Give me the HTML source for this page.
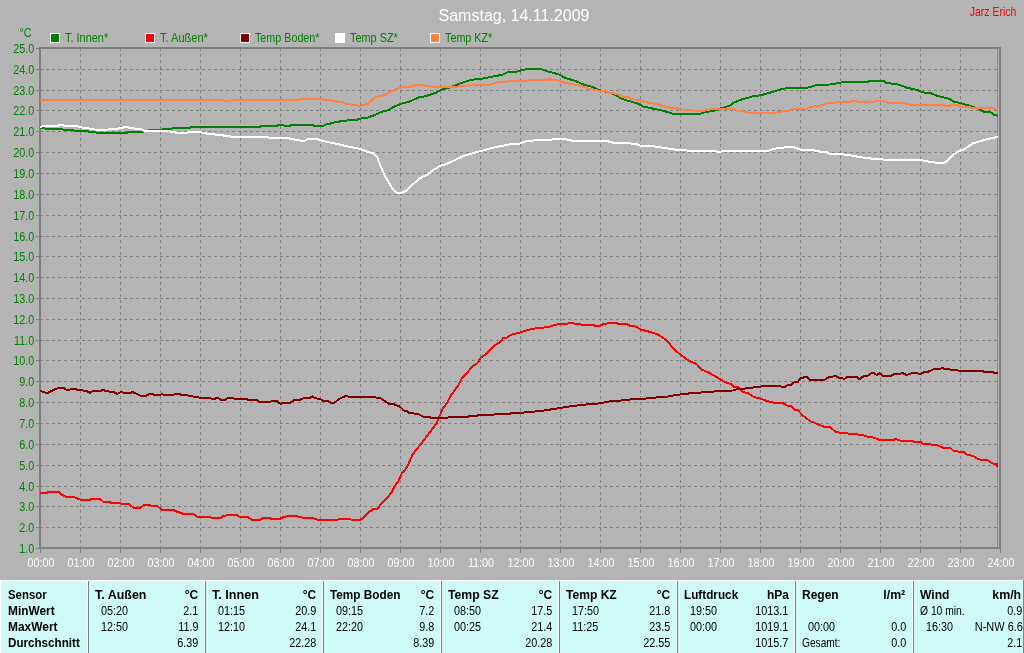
<!DOCTYPE html>
<html lang="de"><head><meta charset="utf-8"><title>Samstag, 14.11.2009</title>
<style>
html,body{margin:0;padding:0;background:#b4b4b4;}
body{width:1024px;height:653px;overflow:hidden;position:relative;font-family:"Liberation Sans",Arial,sans-serif;}
#chart{position:absolute;left:0;top:0;width:1024px;height:580px;display:block}
#chart text{font-family:"Liberation Sans",Arial,sans-serif}
.ax{font-size:10.7px;fill:#008000}
.tx{font-size:10.7px;fill:#fff}
.lg{font-size:10.7px;fill:#008000}
.cv{fill:none;stroke-width:2;stroke-linejoin:miter;shape-rendering:crispEdges}
#tbl{position:absolute;left:0;top:580px;width:1024px;height:73px;background:#cefaf7;overflow:hidden}
#tbl .dv{position:absolute;top:1px;width:1px;height:72px;background:#808080;border-left:1px solid #fff}
#tbl span{position:absolute;white-space:nowrap;color:#000;font-size:12.5px;line-height:14px;height:14px;display:block}
#tbl .l{transform-origin:0 50%;transform:scaleX(.87)}
#tbl .r{transform-origin:100% 50%;transform:scaleX(.87);text-align:right}
#tbl .b{font-weight:bold}
#tbl .l.b{transform:scaleX(.93)}
#tbl .r.b{transform:scaleX(.93)}
</style></head><body>

<svg id="chart" width="1024" height="580" viewBox="0 0 1024 580">
<rect x="0" y="0" width="1024" height="580" fill="#b4b4b4"/>
<g stroke="#7f7f7f" stroke-width="1" stroke-dasharray="3 3" shape-rendering="crispEdges"><line x1="40" x2="998" y1="527.5" y2="527.5"/><line x1="40" x2="998" y1="506.5" y2="506.5"/><line x1="40" x2="998" y1="486.5" y2="486.5"/><line x1="40" x2="998" y1="465.5" y2="465.5"/><line x1="40" x2="998" y1="444.5" y2="444.5"/><line x1="40" x2="998" y1="423.5" y2="423.5"/><line x1="40" x2="998" y1="402.5" y2="402.5"/><line x1="40" x2="998" y1="381.5" y2="381.5"/><line x1="40" x2="998" y1="360.5" y2="360.5"/><line x1="40" x2="998" y1="340.5" y2="340.5"/><line x1="40" x2="998" y1="319.5" y2="319.5"/><line x1="40" x2="998" y1="298.5" y2="298.5"/><line x1="40" x2="998" y1="277.5" y2="277.5"/><line x1="40" x2="998" y1="256.5" y2="256.5"/><line x1="40" x2="998" y1="236.5" y2="236.5"/><line x1="40" x2="998" y1="215.5" y2="215.5"/><line x1="40" x2="998" y1="194.5" y2="194.5"/><line x1="40" x2="998" y1="173.5" y2="173.5"/><line x1="40" x2="998" y1="152.5" y2="152.5"/><line x1="40" x2="998" y1="131.5" y2="131.5"/><line x1="40" x2="998" y1="110.5" y2="110.5"/><line x1="40" x2="998" y1="90.5" y2="90.5"/><line x1="40" x2="998" y1="69.5" y2="69.5"/><line y1="48" y2="547" x1="80.5" x2="80.5"/><line y1="48" y2="547" x1="120.5" x2="120.5"/><line y1="48" y2="547" x1="160.5" x2="160.5"/><line y1="48" y2="547" x1="200.5" x2="200.5"/><line y1="48" y2="547" x1="240.5" x2="240.5"/><line y1="48" y2="547" x1="280.5" x2="280.5"/><line y1="48" y2="547" x1="320.5" x2="320.5"/><line y1="48" y2="547" x1="360.5" x2="360.5"/><line y1="48" y2="547" x1="400.5" x2="400.5"/><line y1="48" y2="547" x1="440.5" x2="440.5"/><line y1="48" y2="547" x1="480.5" x2="480.5"/><line y1="48" y2="547" x1="520.5" x2="520.5"/><line y1="48" y2="547" x1="560.5" x2="560.5"/><line y1="48" y2="547" x1="600.5" x2="600.5"/><line y1="48" y2="547" x1="640.5" x2="640.5"/><line y1="48" y2="547" x1="680.5" x2="680.5"/><line y1="48" y2="547" x1="720.5" x2="720.5"/><line y1="48" y2="547" x1="760.5" x2="760.5"/><line y1="48" y2="547" x1="800.5" x2="800.5"/><line y1="48" y2="547" x1="840.5" x2="840.5"/><line y1="48" y2="547" x1="880.5" x2="880.5"/><line y1="48" y2="547" x1="920.5" x2="920.5"/><line y1="48" y2="547" x1="960.5" x2="960.5"/></g>
<g stroke="#7f7f7f" stroke-width="1" shape-rendering="crispEdges"><line x1="36" x2="39" y1="548.5" y2="548.5"/><line x1="36" x2="39" y1="527.5" y2="527.5"/><line x1="36" x2="39" y1="506.5" y2="506.5"/><line x1="36" x2="39" y1="486.5" y2="486.5"/><line x1="36" x2="39" y1="465.5" y2="465.5"/><line x1="36" x2="39" y1="444.5" y2="444.5"/><line x1="36" x2="39" y1="423.5" y2="423.5"/><line x1="36" x2="39" y1="402.5" y2="402.5"/><line x1="36" x2="39" y1="381.5" y2="381.5"/><line x1="36" x2="39" y1="360.5" y2="360.5"/><line x1="36" x2="39" y1="340.5" y2="340.5"/><line x1="36" x2="39" y1="319.5" y2="319.5"/><line x1="36" x2="39" y1="298.5" y2="298.5"/><line x1="36" x2="39" y1="277.5" y2="277.5"/><line x1="36" x2="39" y1="256.5" y2="256.5"/><line x1="36" x2="39" y1="236.5" y2="236.5"/><line x1="36" x2="39" y1="215.5" y2="215.5"/><line x1="36" x2="39" y1="194.5" y2="194.5"/><line x1="36" x2="39" y1="173.5" y2="173.5"/><line x1="36" x2="39" y1="152.5" y2="152.5"/><line x1="36" x2="39" y1="131.5" y2="131.5"/><line x1="36" x2="39" y1="110.5" y2="110.5"/><line x1="36" x2="39" y1="90.5" y2="90.5"/><line x1="36" x2="39" y1="69.5" y2="69.5"/><line x1="36" x2="39" y1="48.5" y2="48.5"/><line y1="549" y2="553" x1="40.5" x2="40.5"/><line y1="549" y2="553" x1="80.5" x2="80.5"/><line y1="549" y2="553" x1="120.5" x2="120.5"/><line y1="549" y2="553" x1="160.5" x2="160.5"/><line y1="549" y2="553" x1="200.5" x2="200.5"/><line y1="549" y2="553" x1="240.5" x2="240.5"/><line y1="549" y2="553" x1="280.5" x2="280.5"/><line y1="549" y2="553" x1="320.5" x2="320.5"/><line y1="549" y2="553" x1="360.5" x2="360.5"/><line y1="549" y2="553" x1="400.5" x2="400.5"/><line y1="549" y2="553" x1="440.5" x2="440.5"/><line y1="549" y2="553" x1="480.5" x2="480.5"/><line y1="549" y2="553" x1="520.5" x2="520.5"/><line y1="549" y2="553" x1="560.5" x2="560.5"/><line y1="549" y2="553" x1="600.5" x2="600.5"/><line y1="549" y2="553" x1="640.5" x2="640.5"/><line y1="549" y2="553" x1="680.5" x2="680.5"/><line y1="549" y2="553" x1="720.5" x2="720.5"/><line y1="549" y2="553" x1="760.5" x2="760.5"/><line y1="549" y2="553" x1="800.5" x2="800.5"/><line y1="549" y2="553" x1="840.5" x2="840.5"/><line y1="549" y2="553" x1="880.5" x2="880.5"/><line y1="549" y2="553" x1="920.5" x2="920.5"/><line y1="549" y2="553" x1="960.5" x2="960.5"/><line y1="549" y2="553" x1="1000.5" x2="1000.5"/></g>
<line x1="997.5" x2="997.5" y1="49" y2="547" stroke="#8a8a8a" stroke-width="1" shape-rendering="crispEdges"/>
<rect x="40" y="48" width="960" height="500" fill="none" stroke="#7f7f7f" stroke-width="2" shape-rendering="crispEdges"/>
<polyline class="cv" stroke="#008000" points="40.0,127.7 48.0,128.9 60.3,129.2 70.5,130.3 86.9,131.3 97.8,132.7 127.5,132.7 128.3,131.7 143.0,131.7 151.0,129.7 168.0,129.4 174.4,128.0 190.0,127.7 191.5,126.9 200.0,126.9 260.2,126.9 261.7,125.8 277.3,125.8 278.9,124.8 282.8,124.8 284.4,125.8 289.8,125.8 291.4,124.8 312.5,124.8 314.0,125.8 323.4,125.8 325.0,124.8 329.7,123.8 332.0,122.7 337.5,122.2 341.4,120.9 346.9,120.6 349.2,119.8 357.0,119.7 360.0,118.6 367.8,117.5 375.6,114.7 380.3,112.3 388.9,110.0 393.6,106.9 400.6,104.0 410.0,101.4 418.6,97.5 425.6,96.2 436.6,92.5 441.2,89.7 450.6,87.3 460.0,83.4 470.9,79.8 481.9,78.8 491.2,76.9 502.2,74.8 508.4,71.7 516.2,71.7 520.0,70.6 527.8,69.0 540.3,69.0 546.6,71.1 559.0,74.5 565.3,78.0 574.7,80.8 584.0,84.7 591.9,86.7 598.0,89.7 606.0,91.7 613.8,94.0 621.6,98.8 629.4,101.1 637.2,103.4 643.4,106.6 654.4,108.9 663.8,110.9 673.0,113.9 680.0,113.9 700.3,113.9 705.0,111.9 712.8,111.1 722.2,108.0 730.0,105.6 733.9,102.5 740.9,99.7 753.4,96.2 761.2,95.2 773.8,91.6 781.6,89.2 787.8,88.0 806.6,88.0 817.5,84.8 830.0,84.5 840.0,82.8 844.7,81.7 868.0,81.7 869.7,80.6 883.0,80.6 886.0,82.8 897.8,84.4 907.2,87.7 918.0,90.3 924.4,92.7 930.6,93.1 938.4,96.2 949.4,98.9 954.0,101.7 960.3,103.1 969.7,105.9 977.5,108.3 983.8,111.7 990.0,111.9 994.0,114.8 997.8,115.6"/>
<polyline class="cv" stroke="#ff0000" points="40.0,493.1 47.0,493.1 48.6,491.9 58.8,491.9 61.9,494.7 65.8,496.7 73.6,497.0 80.6,499.7 90.0,499.7 91.6,498.8 100.0,498.8 103.3,501.7 109.5,502.0 111.9,503.0 119.7,503.0 122.0,504.0 129.0,504.0 133.8,508.0 140.0,508.0 143.0,505.6 146.2,504.8 150.0,504.8 151.7,505.9 157.2,505.9 161.9,509.8 172.8,509.8 177.5,511.9 183.8,513.9 193.0,513.9 197.8,516.9 200.0,517.3 221.0,517.7 223.4,516.1 228.0,515.0 236.7,515.0 239.0,516.6 247.7,516.9 251.6,519.7 260.2,519.7 264.0,517.8 269.5,517.8 271.0,518.9 279.7,518.9 283.6,516.9 288.3,516.1 296.9,516.1 299.2,516.9 303.0,517.7 312.5,517.8 317.2,519.7 337.5,519.7 339.0,518.9 350.0,518.9 351.7,519.8 360.3,519.8 363.4,517.8 369.0,512.0 373.6,508.9 377.5,508.6 382.2,502.7 387.7,497.2 391.6,492.5 394.7,486.2 398.6,480.8 401.7,473.8 407.2,466.7 412.7,454.2 416.2,450.0 422.5,442.2 428.8,433.6 436.6,423.4 439.7,415.6 442.8,408.6 447.5,402.3 450.6,396.1 453.8,391.4 458.4,385.2 461.6,378.9 467.8,371.9 473.3,365.6 477.2,363.5 480.6,357.8 485.3,354.7 494.7,345.3 500.0,342.2 503.3,338.0 507.2,337.5 511.0,334.7 520.0,332.5 524.7,330.8 531.7,329.0 538.8,328.0 548.0,327.2 553.6,325.2 559.0,324.0 566.9,323.8 569.2,323.0 573.0,323.0 574.7,324.0 580.0,324.0 581.7,324.8 593.4,324.8 595.0,325.8 599.7,325.8 602.8,324.4 608.3,323.3 616.9,323.0 618.4,324.0 627.0,324.0 629.4,325.6 636.4,326.7 640.3,329.5 648.0,331.4 656.7,333.9 666.0,339.7 672.3,347.2 680.0,354.4 689.4,361.1 696.4,363.9 701.9,369.7 709.7,373.1 717.5,377.5 723.8,381.4 730.8,384.2 733.9,386.9 737.8,387.2 742.5,391.6 748.8,393.6 753.4,396.7 761.2,398.9 766.7,400.9 773.8,402.8 783.0,403.0 787.0,405.6 791.0,406.1 794.8,409.8 798.0,410.3 803.4,416.1 809.7,420.9 817.5,424.0 823.8,426.7 830.0,427.0 835.5,431.7 840.0,432.8 846.2,432.8 848.6,433.9 855.6,433.9 858.8,434.8 863.4,435.2 868.0,437.0 872.8,437.5 880.6,440.2 893.0,440.2 895.5,439.0 901.0,440.9 913.2,440.8 914.2,441.8 920.3,441.8 923.4,443.9 930.5,444.0 931.5,444.9 937.0,444.9 940.6,446.9 943.7,447.9 950.3,447.9 953.3,450.8 956.9,451.0 958.4,451.8 963.5,452.0 967.0,454.5 973.0,456.0 977.2,458.6 980.7,459.8 987.3,459.8 989.9,462.1 994.0,463.9 997.0,464.2 997.0,466.5"/>
<polyline class="cv" stroke="#800000" points="40.0,390.9 44.7,392.5 48.6,392.5 54.0,389.8 58.8,387.8 63.4,387.8 66.6,389.8 69.7,389.8 71.2,388.8 75.2,388.8 76.7,389.8 80.6,390.2 86.9,390.9 90.0,393.0 93.0,390.9 101.0,390.9 102.5,389.8 107.2,391.4 113.4,391.9 117.3,394.0 121.2,391.9 124.4,393.0 130.6,393.0 132.2,391.9 136.9,394.0 141.6,396.1 145.5,396.1 149.4,394.0 152.5,394.0 154.8,395.0 160.3,395.0 161.9,394.0 164.2,395.0 172.8,395.0 175.2,394.0 179.8,394.0 181.4,395.0 186.9,395.3 194.7,396.9 200.0,397.7 210.0,397.7 211.7,398.9 214.8,398.9 216.4,397.7 218.0,397.7 221.0,400.0 225.0,400.0 228.0,397.7 232.8,397.7 234.4,398.9 246.9,398.9 248.4,400.0 257.0,400.0 259.4,401.9 270.3,401.9 271.9,400.8 276.6,400.8 280.5,403.9 282.8,402.8 289.8,402.8 293.8,400.3 300.0,399.7 304.7,398.0 310.0,397.7 312.5,396.6 315.6,398.4 320.3,398.9 322.7,400.8 327.3,400.8 331.2,402.8 334.4,402.8 339.0,398.9 346.0,395.8 349.2,396.9 357.0,396.9 360.0,396.6 374.8,396.6 376.4,397.7 380.3,398.1 388.9,403.6 393.6,404.2 400.6,407.0 403.8,410.5 406.9,410.9 409.2,412.8 417.8,414.0 424.0,416.9 429.5,416.9 431.0,418.0 447.5,418.0 449.0,416.9 467.8,416.9 469.4,415.9 477.2,415.9 478.8,414.8 493.6,414.8 495.2,413.8 510.0,413.8 511.6,412.8 517.8,412.8 520.0,412.8 530.0,412.0 541.0,411.0 557.5,408.4 571.6,406.1 582.5,404.8 599.7,403.4 612.2,400.9 626.2,400.3 632.5,399.0 643.4,398.8 652.8,397.8 660.6,397.0 670.0,396.4 673.9,395.2 680.0,394.5 687.8,393.9 689.4,392.8 700.3,392.8 701.9,391.9 713.6,391.6 715.2,390.8 733.0,390.5 737.8,388.9 747.2,388.4 748.8,387.7 757.3,387.3 764.4,385.8 780.0,385.8 781.6,386.9 784.7,386.9 787.8,385.0 791.0,384.8 794.8,381.9 798.0,381.7 800.3,378.3 806.6,376.7 809.7,379.8 824.5,379.8 828.4,377.5 835.5,375.9 838.6,377.5 840.0,378.3 844.7,378.6 847.8,376.9 856.4,376.9 859.5,379.2 864.2,375.8 868.0,375.5 872.0,373.0 874.4,373.4 876.7,375.0 879.8,373.4 883.0,375.8 890.8,375.8 894.7,373.9 900.0,373.9 902.5,373.0 906.4,375.0 911.9,373.1 916.6,373.1 919.7,374.2 924.4,372.2 928.3,371.6 933.8,369.2 940.0,369.0 942.3,368.0 944.7,369.0 949.4,369.2 951.7,370.0 956.4,370.0 958.8,370.8 982.2,370.8 984.5,371.9 992.3,371.9 994.7,373.0 997.8,373.0"/>
<polyline class="cv" stroke="#ffffff" points="40.0,126.9 44.7,126.1 57.0,126.1 58.8,125.3 63.4,125.3 64.2,126.1 77.5,126.1 79.0,127.2 87.0,128.1 93.0,129.2 97.8,130.0 107.0,130.0 108.8,128.9 118.0,128.9 119.0,128.0 123.6,128.0 124.4,126.9 127.5,126.9 128.3,127.7 133.8,127.7 135.3,128.9 141.5,129.2 144.0,130.8 169.7,130.8 171.2,131.9 177.5,132.8 186.9,132.8 188.4,131.9 200.0,131.9 203.0,133.1 212.5,134.2 223.4,135.5 231.2,136.6 267.2,136.6 268.8,137.8 287.5,138.1 293.8,139.4 300.8,140.6 304.7,140.6 307.8,139.0 317.2,139.0 323.4,141.2 334.4,143.3 345.3,145.9 360.0,148.9 367.8,152.0 373.3,153.1 377.2,157.5 380.3,165.3 385.0,176.2 389.7,184.0 393.6,190.3 397.5,193.1 400.6,193.4 406.9,190.3 411.6,185.6 419.4,178.6 424.0,175.9 427.2,175.0 433.4,170.0 441.2,165.3 446.0,164.2 453.8,160.6 463.1,156.2 472.5,153.3 481.9,150.8 492.8,147.8 503.8,145.5 511.6,143.9 520.0,143.5 526.2,141.2 535.6,140.2 554.4,139.4 566.9,139.4 573.0,140.9 606.0,140.9 613.8,142.8 629.4,143.3 637.2,144.4 640.3,145.6 652.8,146.1 663.8,148.0 673.0,149.2 680.0,150.2 686.2,150.2 689.4,151.2 716.0,151.2 719.0,152.0 723.8,151.0 767.5,151.0 772.2,149.4 778.4,147.8 787.8,147.3 791.0,146.6 795.6,147.8 801.9,150.2 812.8,150.2 820.6,151.7 826.9,152.2 830.0,154.0 840.0,154.0 849.4,155.2 860.3,157.2 872.8,158.8 886.9,159.8 919.7,159.8 927.5,161.4 938.4,163.0 943.1,163.0 947.0,161.4 952.5,155.2 958.8,151.2 965.0,148.9 972.8,143.4 980.6,141.1 988.4,138.8 997.8,136.9"/>
<polyline class="cv" stroke="#ff8040" points="40.0,100.0 200.0,99.8 222.7,99.8 224.2,100.8 230.5,100.8 232.0,99.8 300.0,99.8 301.6,98.9 321.9,98.9 323.4,99.8 329.7,100.0 331.2,100.8 336.7,100.8 338.3,101.9 343.0,102.2 345.3,103.8 350.0,104.2 352.3,105.0 356.2,105.3 360.0,106.1 367.8,103.8 374.8,97.5 383.4,95.6 391.2,91.2 399.8,87.7 410.0,86.9 413.0,85.8 418.6,84.7 422.5,84.7 424.8,85.8 429.5,85.8 431.9,86.9 456.9,86.9 460.0,85.8 466.2,85.8 469.4,84.7 489.7,84.7 492.8,83.8 495.9,83.0 498.3,81.9 506.9,81.9 509.2,80.8 520.0,80.8 527.8,80.8 529.4,79.7 548.0,79.7 549.4,78.8 550.5,79.7 556.7,80.0 560.6,81.6 570.0,83.9 577.8,85.2 587.2,88.3 595.0,90.2 606.0,91.2 609.0,92.8 616.9,94.0 621.6,96.7 627.8,97.2 630.9,99.0 640.3,100.3 648.0,102.7 657.5,104.2 666.9,107.3 676.2,108.1 680.0,109.2 686.2,110.3 703.4,110.8 711.2,109.2 733.0,109.2 737.8,111.1 744.0,111.6 750.3,113.0 773.8,113.0 780.0,111.6 787.8,111.1 792.5,109.0 806.6,109.0 811.2,106.7 820.6,105.6 828.4,103.0 836.2,102.5 840.0,102.0 849.4,102.0 851.7,100.9 856.4,100.9 858.0,102.0 872.8,102.0 875.2,100.9 883.0,100.9 888.4,102.8 902.5,102.8 910.3,104.7 943.1,104.7 944.7,105.9 949.4,105.9 952.5,104.7 956.4,104.7 961.9,107.0 969.7,107.0 972.8,108.0 993.0,108.0 994.7,109.0 997.8,109.0"/>
<text transform="translate(34.3,553) scale(0.864,1)" text-anchor="end" fill="#008000" font-size="12.5px">1.0</text>
<text transform="translate(34.3,532) scale(0.864,1)" text-anchor="end" fill="#008000" font-size="12.5px">2.0</text>
<text transform="translate(34.3,511) scale(0.864,1)" text-anchor="end" fill="#008000" font-size="12.5px">3.0</text>
<text transform="translate(34.3,491) scale(0.864,1)" text-anchor="end" fill="#008000" font-size="12.5px">4.0</text>
<text transform="translate(34.3,470) scale(0.864,1)" text-anchor="end" fill="#008000" font-size="12.5px">5.0</text>
<text transform="translate(34.3,449) scale(0.864,1)" text-anchor="end" fill="#008000" font-size="12.5px">6.0</text>
<text transform="translate(34.3,428) scale(0.864,1)" text-anchor="end" fill="#008000" font-size="12.5px">7.0</text>
<text transform="translate(34.3,407) scale(0.864,1)" text-anchor="end" fill="#008000" font-size="12.5px">8.0</text>
<text transform="translate(34.3,386) scale(0.864,1)" text-anchor="end" fill="#008000" font-size="12.5px">9.0</text>
<text transform="translate(34.3,365) scale(0.864,1)" text-anchor="end" fill="#008000" font-size="12.5px">10.0</text>
<text transform="translate(34.3,345) scale(0.864,1)" text-anchor="end" fill="#008000" font-size="12.5px">11.0</text>
<text transform="translate(34.3,324) scale(0.864,1)" text-anchor="end" fill="#008000" font-size="12.5px">12.0</text>
<text transform="translate(34.3,303) scale(0.864,1)" text-anchor="end" fill="#008000" font-size="12.5px">13.0</text>
<text transform="translate(34.3,282) scale(0.864,1)" text-anchor="end" fill="#008000" font-size="12.5px">14.0</text>
<text transform="translate(34.3,261) scale(0.864,1)" text-anchor="end" fill="#008000" font-size="12.5px">15.0</text>
<text transform="translate(34.3,241) scale(0.864,1)" text-anchor="end" fill="#008000" font-size="12.5px">16.0</text>
<text transform="translate(34.3,220) scale(0.864,1)" text-anchor="end" fill="#008000" font-size="12.5px">17.0</text>
<text transform="translate(34.3,199) scale(0.864,1)" text-anchor="end" fill="#008000" font-size="12.5px">18.0</text>
<text transform="translate(34.3,178) scale(0.864,1)" text-anchor="end" fill="#008000" font-size="12.5px">19.0</text>
<text transform="translate(34.3,157) scale(0.864,1)" text-anchor="end" fill="#008000" font-size="12.5px">20.0</text>
<text transform="translate(34.3,136) scale(0.864,1)" text-anchor="end" fill="#008000" font-size="12.5px">21.0</text>
<text transform="translate(34.3,115) scale(0.864,1)" text-anchor="end" fill="#008000" font-size="12.5px">22.0</text>
<text transform="translate(34.3,95) scale(0.864,1)" text-anchor="end" fill="#008000" font-size="12.5px">23.0</text>
<text transform="translate(34.3,74) scale(0.864,1)" text-anchor="end" fill="#008000" font-size="12.5px">24.0</text>
<text transform="translate(34.3,53) scale(0.864,1)" text-anchor="end" fill="#008000" font-size="12.5px">25.0</text>
<text transform="translate(19.5,37) scale(0.864,1)" text-anchor="start" fill="#008000" font-size="12.5px">°C</text>
<text transform="translate(41,567) scale(0.864,1)" text-anchor="middle" fill="#fff" font-size="12.5px">00:00</text>
<text transform="translate(81,567) scale(0.864,1)" text-anchor="middle" fill="#fff" font-size="12.5px">01:00</text>
<text transform="translate(121,567) scale(0.864,1)" text-anchor="middle" fill="#fff" font-size="12.5px">02:00</text>
<text transform="translate(161,567) scale(0.864,1)" text-anchor="middle" fill="#fff" font-size="12.5px">03:00</text>
<text transform="translate(201,567) scale(0.864,1)" text-anchor="middle" fill="#fff" font-size="12.5px">04:00</text>
<text transform="translate(241,567) scale(0.864,1)" text-anchor="middle" fill="#fff" font-size="12.5px">05:00</text>
<text transform="translate(281,567) scale(0.864,1)" text-anchor="middle" fill="#fff" font-size="12.5px">06:00</text>
<text transform="translate(321,567) scale(0.864,1)" text-anchor="middle" fill="#fff" font-size="12.5px">07:00</text>
<text transform="translate(361,567) scale(0.864,1)" text-anchor="middle" fill="#fff" font-size="12.5px">08:00</text>
<text transform="translate(401,567) scale(0.864,1)" text-anchor="middle" fill="#fff" font-size="12.5px">09:00</text>
<text transform="translate(441,567) scale(0.864,1)" text-anchor="middle" fill="#fff" font-size="12.5px">10:00</text>
<text transform="translate(481,567) scale(0.864,1)" text-anchor="middle" fill="#fff" font-size="12.5px">11:00</text>
<text transform="translate(521,567) scale(0.864,1)" text-anchor="middle" fill="#fff" font-size="12.5px">12:00</text>
<text transform="translate(561,567) scale(0.864,1)" text-anchor="middle" fill="#fff" font-size="12.5px">13:00</text>
<text transform="translate(601,567) scale(0.864,1)" text-anchor="middle" fill="#fff" font-size="12.5px">14:00</text>
<text transform="translate(641,567) scale(0.864,1)" text-anchor="middle" fill="#fff" font-size="12.5px">15:00</text>
<text transform="translate(681,567) scale(0.864,1)" text-anchor="middle" fill="#fff" font-size="12.5px">16:00</text>
<text transform="translate(721,567) scale(0.864,1)" text-anchor="middle" fill="#fff" font-size="12.5px">17:00</text>
<text transform="translate(761,567) scale(0.864,1)" text-anchor="middle" fill="#fff" font-size="12.5px">18:00</text>
<text transform="translate(801,567) scale(0.864,1)" text-anchor="middle" fill="#fff" font-size="12.5px">19:00</text>
<text transform="translate(841,567) scale(0.864,1)" text-anchor="middle" fill="#fff" font-size="12.5px">20:00</text>
<text transform="translate(881,567) scale(0.864,1)" text-anchor="middle" fill="#fff" font-size="12.5px">21:00</text>
<text transform="translate(921,567) scale(0.864,1)" text-anchor="middle" fill="#fff" font-size="12.5px">22:00</text>
<text transform="translate(961,567) scale(0.864,1)" text-anchor="middle" fill="#fff" font-size="12.5px">23:00</text>
<text transform="translate(1001,567) scale(0.864,1)" text-anchor="middle" fill="#fff" font-size="12.5px">24:00</text>
<rect x="50" y="33" width="10" height="10" fill="#fff"/><rect x="51" y="34" width="8" height="8" fill="#008000"/>
<text x="65" y="42" font-size="12.5px" fill="#008000" textLength="43.2" lengthAdjust="spacingAndGlyphs">T. Innen*</text>
<rect x="145" y="33" width="10" height="10" fill="#fff"/><rect x="146" y="34" width="8" height="8" fill="#ff0000"/>
<text x="160" y="42" font-size="12.5px" fill="#008000" textLength="47.8" lengthAdjust="spacingAndGlyphs">T. Außen*</text>
<rect x="240" y="33" width="10" height="10" fill="#fff"/><rect x="241" y="34" width="8" height="8" fill="#800000"/>
<text x="255" y="42" font-size="12.5px" fill="#008000" textLength="64.5" lengthAdjust="spacingAndGlyphs">Temp Boden*</text>
<rect x="335" y="33" width="10" height="10" fill="#fff"/><rect x="336" y="34" width="8" height="8" fill="#ffffff"/>
<text x="350" y="42" font-size="12.5px" fill="#008000" textLength="47.8" lengthAdjust="spacingAndGlyphs">Temp SZ*</text>
<rect x="430" y="33" width="10" height="10" fill="#fff"/><rect x="431" y="34" width="8" height="8" fill="#ff8040"/>
<text x="445" y="42" font-size="12.5px" fill="#008000" textLength="47.3" lengthAdjust="spacingAndGlyphs">Temp KZ*</text>
<text x="514" y="21" text-anchor="middle" font-size="16px" fill="#fff">Samstag, 14.11.2009</text>
<text x="969.8" y="16" font-size="12.5px" fill="#ff0000" textLength="46.5" lengthAdjust="spacingAndGlyphs">Jarz Erich</text>
</svg>

<div id="tbl">
<i class="dv" style="left:0;top:0;height:1px;width:1023px;border-left:0;background:#fff"></i>
<i class="dv" style="left:0;border-left:0;background:#fff"></i>
<i class="dv" style="left:87px"></i>
<i class="dv" style="left:204px"></i>
<i class="dv" style="left:322px"></i>
<i class="dv" style="left:440px"></i>
<i class="dv" style="left:558px"></i>
<i class="dv" style="left:676px"></i>
<i class="dv" style="left:794px"></i>
<i class="dv" style="left:912px"></i>
<i class="dv" style="left:1023px;top:0;height:73px;border-left:0"></i>
<span class="l b" style="left:8.3px;top:8px;transform:scaleX(0.913)">Sensor</span>
<span class="l b" style="left:8.3px;top:24px;transform:scaleX(0.952)">MinWert</span>
<span class="l b" style="left:8.3px;top:40px;transform:scaleX(0.956)">MaxWert</span>
<span class="l b" style="left:8.3px;top:56px;transform:scaleX(0.931)">Durchschnitt</span>
<span class="l b" style="left:95.0px;top:8px;transform:scaleX(0.996)">T. Außen</span>
<span class="r b" style="right:825.5px;top:8px;transform:scaleX(0.955)">°C</span>
<span class="l" style="left:100.5px;top:24px;transform:scaleX(0.864)">05:20</span>
<span class="r" style="right:825.5px;top:24px;transform:scaleX(0.864)">2.1</span>
<span class="l" style="left:100.5px;top:40px;transform:scaleX(0.864)">12:50</span>
<span class="r" style="right:825.5px;top:40px;transform:scaleX(0.864)">11.9</span>
<span class="r" style="right:825.5px;top:56px;transform:scaleX(0.864)">6.39</span>
<span class="l b" style="left:212.0px;top:8px;transform:scaleX(1.008)">T. Innen</span>
<span class="r b" style="right:707.5px;top:8px;transform:scaleX(0.955)">°C</span>
<span class="l" style="left:217.5px;top:24px;transform:scaleX(0.864)">01:15</span>
<span class="r" style="right:707.5px;top:24px;transform:scaleX(0.864)">20.9</span>
<span class="l" style="left:217.5px;top:40px;transform:scaleX(0.864)">12:10</span>
<span class="r" style="right:707.5px;top:40px;transform:scaleX(0.864)">24.1</span>
<span class="r" style="right:707.5px;top:56px;transform:scaleX(0.864)">22.28</span>
<span class="l b" style="left:330.0px;top:8px;transform:scaleX(0.941)">Temp Boden</span>
<span class="r b" style="right:589.5px;top:8px;transform:scaleX(0.955)">°C</span>
<span class="l" style="left:335.5px;top:24px;transform:scaleX(0.864)">09:15</span>
<span class="r" style="right:589.5px;top:24px;transform:scaleX(0.864)">7.2</span>
<span class="l" style="left:335.5px;top:40px;transform:scaleX(0.864)">22:20</span>
<span class="r" style="right:589.5px;top:40px;transform:scaleX(0.864)">9.8</span>
<span class="r" style="right:589.5px;top:56px;transform:scaleX(0.864)">8.39</span>
<span class="l b" style="left:448.0px;top:8px;transform:scaleX(0.978)">Temp SZ</span>
<span class="r b" style="right:471.5px;top:8px;transform:scaleX(0.955)">°C</span>
<span class="l" style="left:453.5px;top:24px;transform:scaleX(0.864)">08:50</span>
<span class="r" style="right:471.5px;top:24px;transform:scaleX(0.864)">17.5</span>
<span class="l" style="left:453.5px;top:40px;transform:scaleX(0.864)">00:25</span>
<span class="r" style="right:471.5px;top:40px;transform:scaleX(0.864)">21.4</span>
<span class="r" style="right:471.5px;top:56px;transform:scaleX(0.864)">20.28</span>
<span class="l b" style="left:566.0px;top:8px;transform:scaleX(0.965)">Temp KZ</span>
<span class="r b" style="right:353.5px;top:8px;transform:scaleX(0.955)">°C</span>
<span class="l" style="left:571.5px;top:24px;transform:scaleX(0.864)">17:50</span>
<span class="r" style="right:353.5px;top:24px;transform:scaleX(0.864)">21.8</span>
<span class="l" style="left:571.5px;top:40px;transform:scaleX(0.864)">11:25</span>
<span class="r" style="right:353.5px;top:40px;transform:scaleX(0.864)">23.5</span>
<span class="r" style="right:353.5px;top:56px;transform:scaleX(0.864)">22.55</span>
<span class="l b" style="left:684.0px;top:8px;transform:scaleX(0.940)">Luftdruck</span>
<span class="r b" style="right:235.5px;top:8px;transform:scaleX(0.955)">hPa</span>
<span class="l" style="left:689.5px;top:24px;transform:scaleX(0.864)">19:50</span>
<span class="r" style="right:235.5px;top:24px;transform:scaleX(0.864)">1013.1</span>
<span class="l" style="left:689.5px;top:40px;transform:scaleX(0.864)">00:00</span>
<span class="r" style="right:235.5px;top:40px;transform:scaleX(0.864)">1019.1</span>
<span class="r" style="right:235.5px;top:56px;transform:scaleX(0.864)">1015.7</span>
<span class="l b" style="left:802.4px;top:8px;transform:scaleX(0.961)">Regen</span>
<span class="r b" style="right:118.5px;top:8px;transform:scaleX(0.985)">l/m²</span>
<span class="l" style="left:808.0px;top:40px;transform:scaleX(0.864)">00:00</span>
<span class="r" style="right:117.5px;top:40px;transform:scaleX(0.864)">0.0</span>
<span class="l" style="left:802.4px;top:56px;transform:scaleX(0.813)">Gesamt:</span>
<span class="r" style="right:117.5px;top:56px;transform:scaleX(0.864)">0.0</span>
<span class="l b" style="left:919.9px;top:8px;transform:scaleX(0.969)">Wind</span>
<span class="r b" style="right:2.5px;top:8px;transform:scaleX(0.990)">km/h</span>
<span class="l" style="left:920.1px;top:24px;transform:scaleX(0.825)">Ø 10 min.</span>
<span class="r" style="right:1.5px;top:24px;transform:scaleX(0.864)">0.9</span>
<span class="l" style="left:926.0px;top:40px;transform:scaleX(0.864)">16:30</span>
<span class="r" style="right:1.5px;top:40px;transform:scaleX(0.876)">N-NW 6.6</span>
<span class="r" style="right:2.0px;top:56px;transform:scaleX(0.864)">2.1</span>
</div>
</body></html>
